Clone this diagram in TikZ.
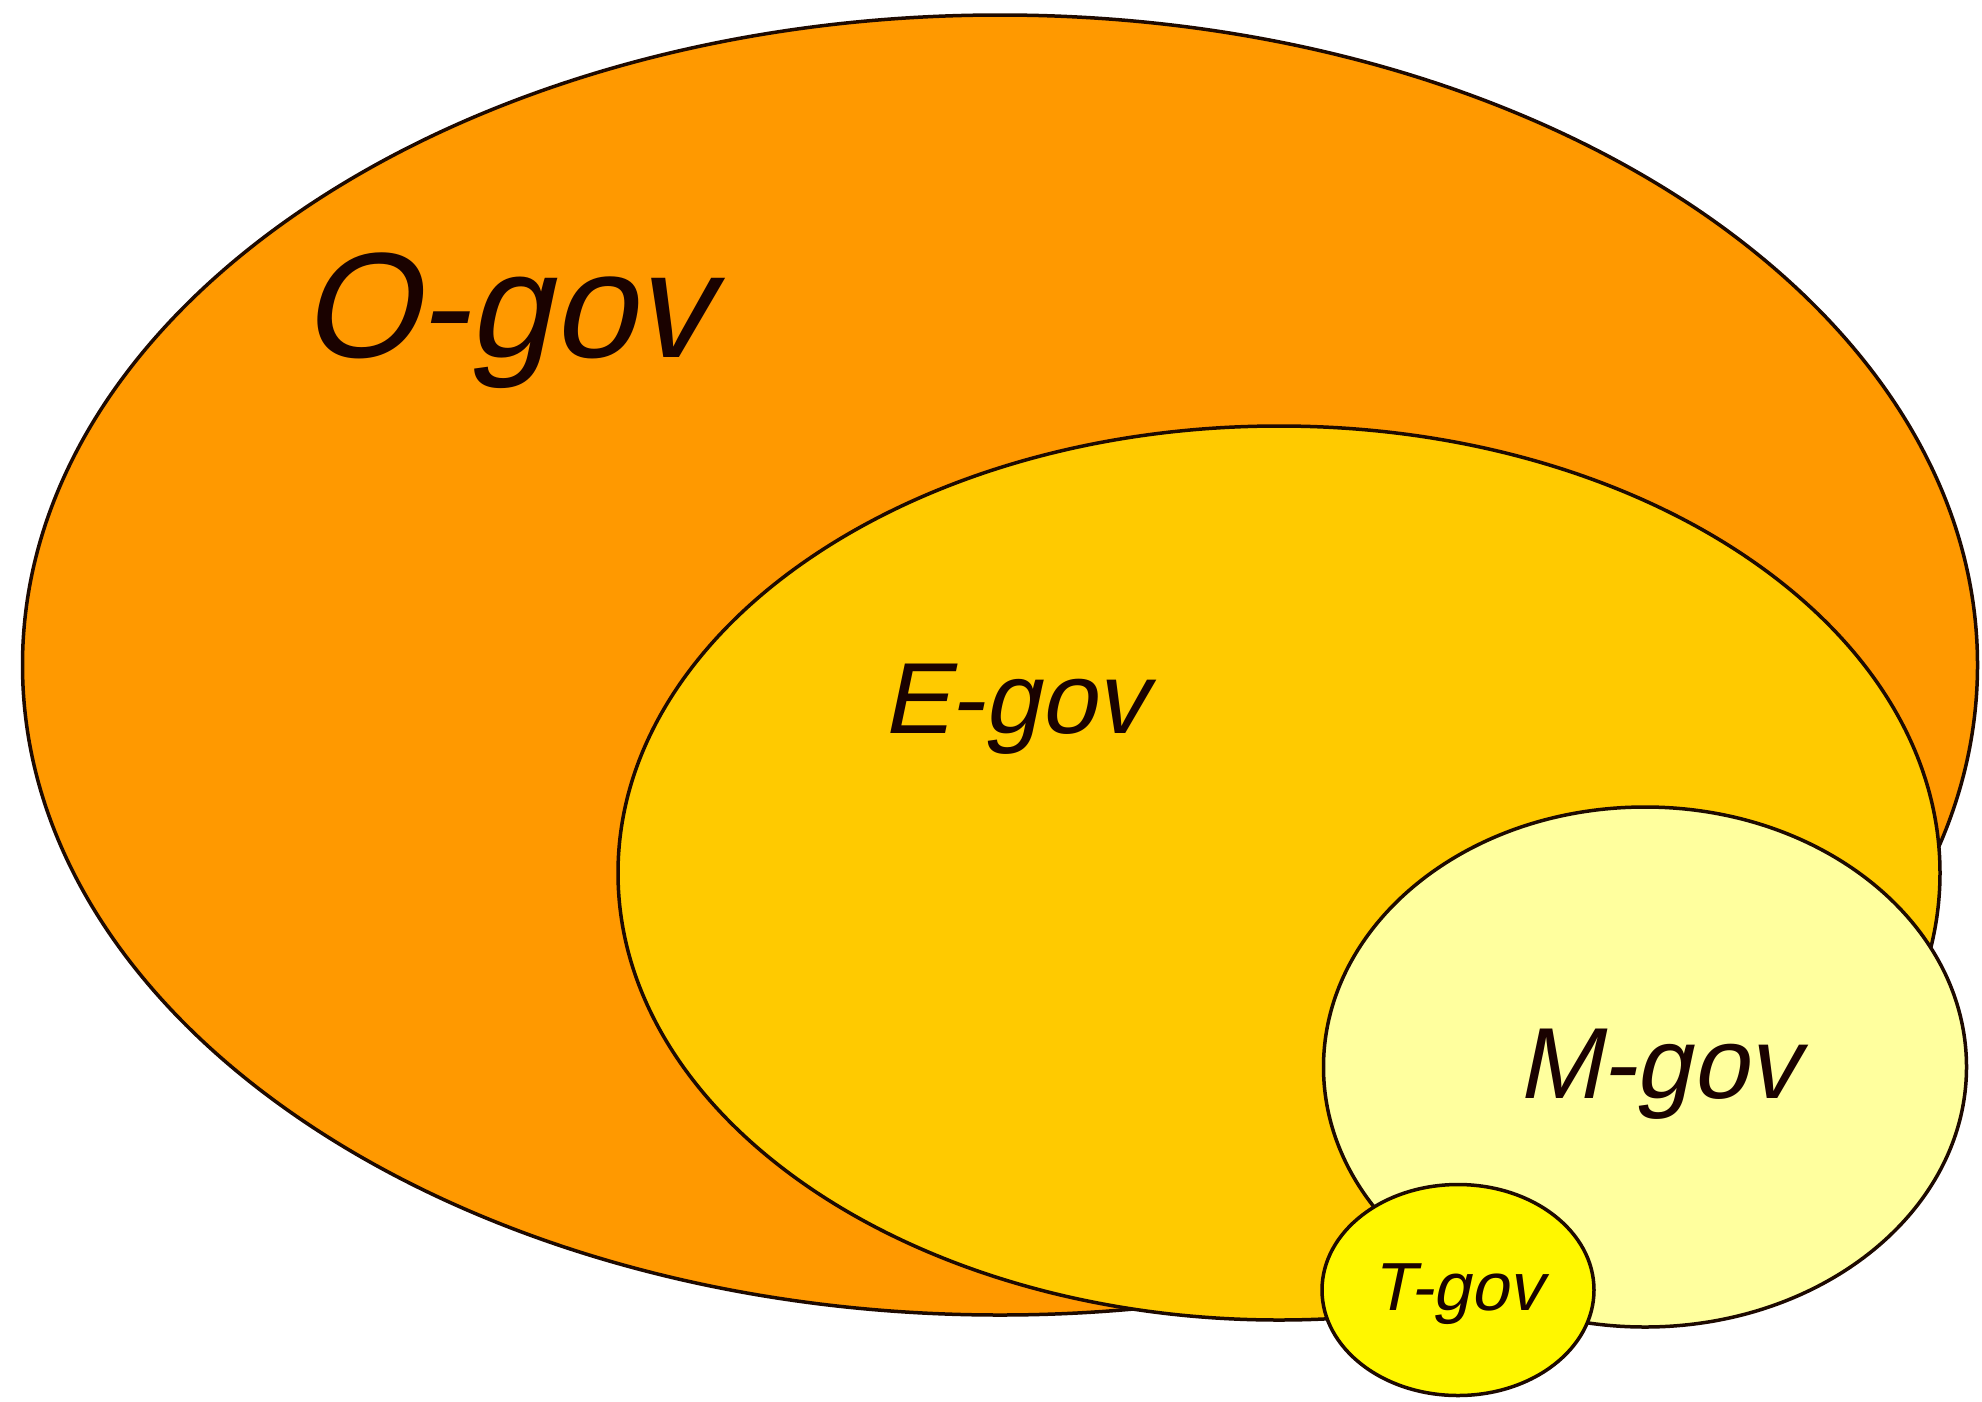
\documentclass[tikz,border=0pt]{standalone}
\usepackage{fontspec}
\setmainfont{Liberation Sans}
\newfontfamily\slantsans{Liberation Sans}[FakeSlant=0.21]
\usetikzlibrary{shapes.geometric}
\definecolor{ocol}{HTML}{FF9900}
\definecolor{ecol}{HTML}{FFCA00}
\definecolor{mcol}{HTML}{FFFF9E}
\definecolor{tcol}{HTML}{FFF700}
\definecolor{edgecol}{HTML}{1E0A00}
\definecolor{txtcol}{HTML}{1A0200}
\begin{document}
\begin{tikzpicture}[x=1pt,y=-1pt,
  blob/.style={ellipse, draw=edgecol, line width=3.5pt, inner sep=0pt},
  lbl/.style={anchor=base west, inner sep=0pt, text=txtcol}]
\fill[white] (0,0) rectangle (1982,1401);
\useasboundingbox (0,0) rectangle (1982,1401);
\node[blob, fill=ocol, minimum width=1955pt, minimum height=1300pt] (ogov) at (1000,665) {};
\node[blob, fill=ecol, minimum width=1322pt, minimum height=894pt] (egov) at (1279,873) {};
\node[blob, fill=mcol, minimum width=643pt, minimum height=520pt] (mgov) at (1645,1067) {};
\node[blob, fill=tcol, minimum width=272pt, minimum height=211pt] (tgov) at (1458,1290) {};
\node[lbl, font=\slantsans\fontsize{150}{150}\selectfont] (otext) at (301,357) {O-gov};
\node[lbl, font=\slantsans\fontsize{101}{101}\selectfont] (etext) at (882,733) {E-gov};
\node[lbl, font=\slantsans\fontsize{101}{101}\selectfont] (mtext) at (1517,1098) {M-gov};
\node[lbl, font=\slantsans\fontsize{68}{68}\selectfont] (ttext) at (1372,1310) {T-gov};
\end{tikzpicture}
\end{document}
